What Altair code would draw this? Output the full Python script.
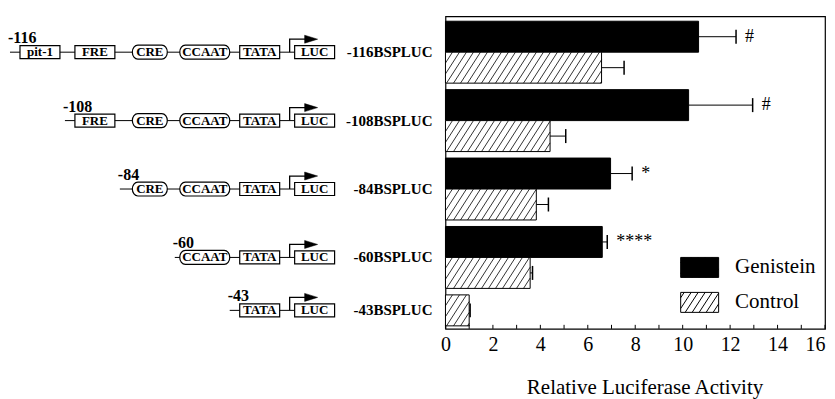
import altair as alt
import numpy as np
import pandas as pd

# ---------------- data ----------------
constructs = ["-116", "-108", "-84", "-60", "-43"]
treatments = ["Genistein", "Control"]
genistein_mean = [10.67, 10.25, 6.96, 6.61, None]
genistein_err = [1.58, 2.70, 0.91, 0.21, None]
control_mean = [6.58, 4.41, 3.83, 3.57, 1.00]
control_err = [0.95, 0.66, 0.51, 0.10, 0.04]
significance = ["#", "#", "*", "****", ""]
tick_values = [0, 2, 4, 6, 8, 10, 12, 14, 16]
minor_ticks = list(range(0, 17))

elements = ["pit-1", "FRE", "CRE", "CCAAT", "TATA", "LUC"]
construct_elements = [
    ["pit-1", "FRE", "CRE", "CCAAT", "TATA", "LUC"],
    ["FRE", "CRE", "CCAAT", "TATA", "LUC"],
    ["CRE", "CCAAT", "TATA", "LUC"],
    ["CCAAT", "TATA", "LUC"],
    ["TATA", "LUC"],
]
element_kind = {"pit-1": "box", "FRE": "box", "CRE": "ellipse",
                "CCAAT": "oval", "TATA": "box", "LUC": "box"}

SERIF = "serif"
SERIF_B = "Liberation Serif"

# ---------------- layout (style) constants, in units of one construct group ----------------
SLOT = 31 / 68.5          # height of one bar relative to group pitch
Y_DOMAIN = [-5 / 68.5, 308 / 68.5]
CAP = 7 / 68.5            # half height of error-bar caps
TICK = 4 / 68.5           # inward minor tick length
HATCH_DX = 0.84           # horizontal run of a hatch line (x units)
HATCH_STEP = 0.295        # spacing of hatch lines (x units)

# ---------------- derived tables ----------------
bar_rows = []
for gi, c in enumerate(constructs):
    present = [(t, m, e) for t, m, e in
               [("Genistein", genistein_mean[gi], genistein_err[gi]),
                ("Control", control_mean[gi], control_err[gi])] if m is not None]
    for slot, (t, m, e) in enumerate(present):
        y0 = gi + slot * SLOT
        bar_rows.append(dict(construct=c, treatment=t, value=m, err=e, hi=m + e,
                             y0=y0, y1=y0 + SLOT, yc=y0 + SLOT / 2,
                             c0=y0 + SLOT / 2 - CAP, c1=y0 + SLOT / 2 + CAP,
                             sig=significance[gi] if t == "Genistein" else ""))
bar_df = pd.DataFrame(bar_rows)
ctrl_df = bar_df[bar_df.treatment == "Control"]

hatch_rows = []
for _, r in ctrl_df.iterrows():
    xb = -HATCH_DX
    while xb < r.value:
        t0 = max(0.0, -xb / HATCH_DX)
        t1 = min(1.0, (r.value - xb) / HATCH_DX)
        if t1 > t0:
            hatch_rows.append(dict(hx0=xb + t0 * HATCH_DX, hx1=xb + t1 * HATCH_DX,
                                   hy0=r.y1 - t0 * SLOT, hy1=r.y1 - t1 * SLOT))
        xb += HATCH_STEP
hatch_df = pd.DataFrame(hatch_rows)

tick_df = pd.DataFrame({"t": minor_ticks, "ty0": Y_DOMAIN[1], "ty1": Y_DOMAIN[1] - TICK})

row_rows, elem_rows = [], []
for gi, c in enumerate(constructs):
    anchor = float(bar_df.loc[bar_df.construct == c, "yc"].mean())
    row_rows.append(dict(construct=c, first=construct_elements[gi][0], last="LUC",
                         anchor=anchor, label=c + "BSPLUC"))
    for el in construct_elements[gi]:
        elem_rows.append(dict(construct=c, element=el, kind=element_kind[el],
                              anchor=anchor))
row_df = pd.DataFrame(row_rows)
elem_df = pd.DataFrame(elem_rows)

# ---------------- shapes ----------------
BOX = "M-2,-0.65H2V0.65H-2Z"
ELL = "M-1.2,-0.7H1.2A0.55,0.7 0 0,1 1.2,0.7H-1.2A0.55,0.7 0 0,1 -1.2,-0.7Z"
OVAL = "M-1.95,-0.7H1.95A0.55,0.7 0 0,1 1.95,0.7H-1.95A0.55,0.7 0 0,1 -1.95,-0.7Z"
STEM = "M-0.5,0V-1.3H1.1"
HEAD = "M1.0,-1.7L2.3,-1.3L1.0,-0.9Z"


def legend_path():
    W, H, d, step = 1.9, 1.0, 1.3, 0.7
    parts = [f"M{-W},{-H}H{W}V{H}H{-W}Z"]
    xb = -W - d + step * 0.5
    while xb < W:
        x0, y0, x1, y1 = xb, H, xb + d, -H
        if x0 < -W:
            t = (-W - x0) / d
            x0, y0 = -W, H - 2 * H * t
        if x1 > W:
            t = (x1 - W) / d
            x1, y1 = W, -H + 2 * H * t
        if x1 > x0:
            parts.append(f"M{x0:.3f},{y0:.3f}L{x1:.3f},{y1:.3f}")
        xb += step
    return "".join(parts)


LEG = legend_path()

y_scale = alt.Scale(domain=Y_DOMAIN, reverse=True, nice=False, zero=False)
x_scale = alt.Scale(domain=[0, 16], nice=False, zero=True)

# ---------------- right panel: bars ----------------
bars = alt.Chart(bar_df).mark_bar(stroke="black", strokeWidth=1).encode(
    x=alt.X("value:Q", scale=x_scale,
            axis=alt.Axis(values=tick_values, ticks=False, domain=False, grid=False,
                          orient="bottom", labelFont=SERIF, labelFontSize=20,
                          labelColor="black", labelPadding=6, labelFlush=False,
                          labelAlign={"condition": {"test": "datum.value == 16",
                                                    "value": "right"},
                                      "value": "center"},
                          title="Relative Luciferase Activity", titleFont=SERIF,
                          titleFontSize=21, titleFontWeight="normal", titleColor="black",
                          titlePadding=22, titleAnchor="start", titleAlign="left",
                          titleX=81)),
    x2=alt.X2(datum=0),
    y=alt.Y("y0:Q", scale=y_scale, axis=None), y2="y1:Q",
    fill=alt.Fill("treatment:N", scale=alt.Scale(domain=treatments, range=["black", "white"]),
                  legend=alt.Legend(title=None, orient="none", legendX=244, legendY=241,
                                    symbolType=LEG, symbolSize=400,
                                    symbolStrokeColor="black", symbolStrokeWidth=1,
                                    symbolOpacity=1, labelFont=SERIF,
                                    labelFontSize=21, labelColor="black", labelOffset=25,
                                    rowPadding=10, padding=0)),
)

hatch = alt.Chart(hatch_df).mark_rule(color="black", strokeWidth=0.8).encode(
    x=alt.X("hx0:Q"), x2="hx1:Q", y=alt.Y("hy0:Q"), y2="hy1:Q",
)

ticks = alt.Chart(tick_df).mark_rule(color="black", strokeWidth=1).encode(
    x=alt.X("t:Q"), y=alt.Y("ty0:Q"), y2="ty1:Q",
)

err = alt.Chart(bar_df).mark_rule(color="black", strokeWidth=1).encode(
    x=alt.X("value:Q"), x2="hi:Q", y=alt.Y("yc:Q"),
)

caps = alt.Chart(bar_df).mark_rule(color="black", strokeWidth=1.5).encode(
    x=alt.X("hi:Q"), y=alt.Y("c0:Q"), y2="c1:Q",
)

sig = alt.Chart(bar_df).mark_text(align="left", baseline="middle", dx=9, font=SERIF,
                                  fontSize=18, color="black").encode(
    x=alt.X("hi:Q"), y=alt.Y("yc:Q"), text="sig:N",
)

right = alt.layer(bars, hatch, ticks, err, caps, sig).properties(
    width=380, height=313, view=alt.ViewBackground(stroke="black", strokeWidth=1.2))

# ---------------- left panel: promoter diagrams ----------------
x_left = alt.Scale(domain=elements, range=[12, 327], paddingInner=0.2727, paddingOuter=0)
y_row = alt.Y("anchor:Q", scale=y_scale, axis=None)

line = alt.Chart(row_df).mark_rule(color="black", strokeWidth=1, xOffset=-10).encode(
    x=alt.X("first:N", scale=x_left, axis=None, bandPosition=0),
    x2="last:N", y=y_row,
)

boxes = alt.Chart(elem_df).mark_point(filled=True, fill="white", stroke="black",
                                      strokeWidth=1.2, size=400, opacity=1).encode(
    x=alt.X("element:N", axis=None), y=y_row,
    shape=alt.Shape("kind:N", scale=alt.Scale(domain=["box", "ellipse", "oval"],
                                              range=[BOX, ELL, OVAL]), legend=None),
)

el_text = alt.Chart(elem_df).mark_text(font=SERIF_B, fontWeight="bold", fontSize=13,
                                       baseline="middle", color="black").encode(
    x=alt.X("element:N", axis=None), y=y_row, text="element:N",
)

stem = alt.Chart(row_df).mark_point(shape=STEM, size=400, filled=False, stroke="black",
                                    strokeWidth=1.3, opacity=1).encode(
    x=alt.X("last:N", axis=None, bandPosition=0), y=y_row,
)

head = alt.Chart(row_df).mark_point(shape=HEAD, size=400, filled=True, fill="black",
                                    stroke="black", strokeWidth=0.5, opacity=1).encode(
    x=alt.X("last:N", axis=None, bandPosition=0), y=y_row,
)

start_lbl = alt.Chart(row_df).mark_text(align="left", baseline="alphabetic", dx=-12, dy=-9,
                                        font=SERIF_B, fontWeight="bold", fontSize=16,
                                        color="black").encode(
    x=alt.X("first:N", axis=None, bandPosition=0), y=y_row, text="construct:N",
)

name_lbl = alt.Chart(row_df).mark_text(align="right", baseline="middle", dx=98,
                                       font=SERIF_B, fontWeight="bold", fontSize=15,
                                       color="black").encode(
    x=alt.X("last:N", axis=None, bandPosition=1), y=y_row, text="label:N",
)

left = alt.layer(line, boxes, el_text, stem, head, start_lbl, name_lbl).properties(
    width=430, height=313, view=alt.ViewBackground(stroke="transparent", strokeWidth=0))

chart = alt.hconcat(left, right, spacing=8, bounds="flush").properties(
    padding={"left": 0, "top": 7, "right": 0, "bottom": 0}
).resolve_scale(fill="independent", shape="independent")

chart.save("out.html", embed_options={"renderer": "svg", "actions": False})
